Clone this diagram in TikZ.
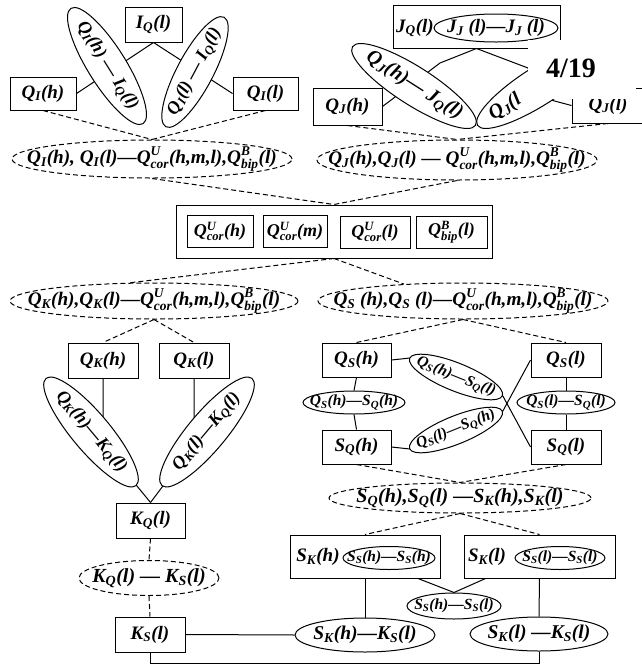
\documentclass[tikz,border=0pt]{standalone}
\usepackage{fontspec}
\setmainfont{Liberation Serif}
\usepackage{amsmath}
\usetikzlibrary{shapes.geometric,calc}
\pgfdeclarelayer{bg}
\pgfsetlayers{bg,main}
\newcommand\dn[1]{\ensuremath{_{\text{#1}}}}
\newcommand\ud[2]{\ensuremath{^{\text{#1}}_{\text{#2}}}}
\newcommand\stx{\fontsize{15.5}{16}\selectfont}
\newcommand\ctx{\fontsize{18}{20}\selectfont}
\newcommand\dtx{\fontsize{19.2}{21}\selectfont}
\newcommand\rtx{\fontsize{18}{19}\selectfont}
\newcommand\rtxb{\fontsize{20}{21}\selectfont}
\newcommand\elnode[7]{%
  \node[ellipse,draw,fill=white,lw,inner sep=0pt,#6,minimum width=#3pt,minimum height=#4pt,rotate=#5] (#1) at (#2) {};
  \node[txt,rotate=#5] (#1t) at (#1.center) {#7};}
\newcommand\bx[5]{\node[bx,minimum width=#3pt,minimum height=#4pt] (#1) at (#2) {#5};}
\tikzset{
  lw/.style={line width=1pt},
  txt/.style={font=\fontsize{19}{20}\selectfont\bfseries\itshape, inner sep=0pt},
  bx/.style={draw,fill=white,lw,inner sep=0pt,font=\fontsize{19}{20}\selectfont\bfseries\itshape},
  dsh/.style={dash pattern=on 5pt off 3pt},
  conn/.style={lw},
  dconn/.style={lw,dash pattern=on 5pt off 3pt}
}
\begin{document}
\begin{tikzpicture}[x=1pt,y=-1pt]
\useasboundingbox (0,0) rectangle (641,665);
% ---------- top left
\bx{IQ}{153.5,24.5}{57}{35}{I\dn{Q}(l)}
\bx{QIh}{43,93.5}{66}{33}{Q\dn{I}(h)}
\bx{QIl}{265.5,93.5}{65}{33}{Q\dn{I}(l)}
\elnode{EA}{107,66}{136}{38}{-58}{}{\rtx Q\dn{I}(h) — I\dn{Q}(l)}
\elnode{EB}{195,72}{124}{36}{62}{}{\rtx Q\dn{I}(l) — I\dn{Q}(l)}
\elnode{DA}{152,159}{280}{38}{0}{dsh}{\dtx Q\dn{I}(h), Q\dn{I}(l)—Q\ud{U}{cor}(h,m,l),Q\ud{B}{bip}(l)}
% ---------- top right
\node[bx,minimum width=167pt,minimum height=43pt] (JQ) at (476.5,26.5) {};
\node[txt] (JQt) at (415,28) {J\dn{Q}(l)};
\elnode{JJ}{496,28}{124}{28}{0}{}{J\dn{J} (l)—J\dn{J} (l)}
\bx{QJh}{347.5,106.5}{69}{37}{Q\dn{J}(h)}
\bx{QJl}{608,105.5}{72}{35}{Q\dn{J}(l)}
\elnode{EC}{414,86}{146}{38}{-32.6}{}{\rtxb Q\dn{J}(h)— J\dn{Q}(l)}
\node[ellipse,draw,fill=white,lw,inner sep=0pt,minimum width=146pt,minimum height=38pt,rotate=32.6] (ED) at (539,86) {};
\node[txt,rotate=32.6,anchor=west] (EDt) at ($(ED.west)!0.11!(ED.east)$) {\rtxb Q\dn{J}(l};
\elnode{DB}{457,160}{280}{40}{0}{dsh}{\dtx Q\dn{J}(h),Q\dn{J}(l) — Q\ud{U}{cor}(h,m,l),Q\ud{B}{bip}(l)}
% ---------- centre
\node[bx,minimum width=316pt,minimum height=53pt] (C) at (334,231.5) {};
\bx{CA}{220,231.5}{66}{32}{\ctx Q\ud{U}{cor}(h)}
\bx{CB}{295,231.5}{64}{32}{\ctx Q\ud{U}{cor}(m)}
\bx{CC}{375,232}{70}{32}{\ctx Q\ud{U}{cor}(l)}
\bx{CD}{451.5,232}{71}{32}{\ctx Q\ud{B}{bip}(l)}
\elnode{DC}{154,301}{288}{36}{0}{dsh}{\dtx Q\dn{K}(h),Q\dn{K}(l)—Q\ud{U}{cor}(h,m,l),Q\ud{B}{bip}(l)}
\elnode{DD}{463,301}{290}{36}{0}{dsh}{\dtx Q\dn{S} (h),Q\dn{S} (l)—Q\ud{U}{cor}(h,m,l),Q\ud{B}{bip}(l)}
% ---------- left column
\bx{QKh}{103,360.5}{70}{35}{Q\dn{K}(h)}
\bx{QKl}{194,360.5}{70}{35}{Q\dn{K}(l)}
\elnode{EE}{91,432}{140}{38}{-50}{}{\rtx Q\dn{K}(h)—K\dn{Q}(l)}
\elnode{EF}{207,432}{140}{38}{50}{}{\rtx Q\dn{K}(l)—K\dn{Q}(l)}
\bx{KQ}{150.5,520.5}{69}{35}{K\dn{Q}(l)}
\elnode{DE}{149,578}{140}{35}{0}{dsh}{\fontsize{20}{21}\selectfont K\dn{Q}(l) — K\dn{S}(l)}
\bx{KS}{150,634.5}{70}{35}{K\dn{S}(l)}
% ---------- right column
\bx{QSh}{356.5,360}{69}{34}{Q\dn{S}(h)}
\bx{QSl}{566,360}{70}{34}{Q\dn{S}(l)}
\bx{SQh}{356.5,447}{69}{34}{S\dn{Q}(h)}
\bx{SQl}{566,447}{70}{34}{S\dn{Q}(l)}
\elnode{EG}{354,402.5}{102}{23}{0}{}{\stx Q\dn{S}(h)—S\dn{Q}(h)}
\elnode{EH}{566,402.5}{98}{23}{0}{}{\stx Q\dn{S}(l)—S\dn{Q}(l)}
\elnode{EI}{456,377}{100}{28}{-22}{}{\stx Q\dn{S}(h)—S\dn{Q}(l)}
\elnode{EJ}{456,430}{100}{28}{22}{}{\stx Q\dn{S}(l)—S\dn{Q}(h)}
\elnode{DF}{460,498}{262}{30}{0}{dsh}{\fontsize{20}{21}\selectfont S\dn{Q}(h),S\dn{Q}(l) —S\dn{K}(h),S\dn{K}(l)}
\node[bx,minimum width=150pt,minimum height=43pt] (SKh) at (365,556.5) {};
\node[txt] (SKht) at (318,557) {S\dn{K}(h)};
\elnode{ESh}{389,558}{92}{23}{0}{}{\stx S\dn{S}(h)—S\dn{S}(h)}
\node[bx,minimum width=151pt,minimum height=43pt] (SKl) at (539.5,556.5) {};
\node[txt] (SKlt) at (487,557) {S\dn{K}(l)};
\elnode{ESl}{560,558}{90}{23}{0}{}{\stx S\dn{S}(l)—S\dn{S}(l)}
\elnode{EK}{454,606}{94}{26}{0}{}{\stx S\dn{S}(h)—S\dn{S}(l)}
\elnode{EL}{365,635}{140}{34}{0}{}{\fontsize{19.5}{20}\selectfont S\dn{K}(h)—K\dn{S}(l)}
\elnode{EM}{539,634}{138}{34}{0}{}{\fontsize{19.5}{20}\selectfont S\dn{K}(l) —K\dn{S}(l)}
% ---------- connectors
\begin{pgfonlayer}{bg}
\draw[conn] (IQ.south) -- (QIh.east);
\draw[conn] (IQ.south) -- (QIl.west);
\draw[dconn] (QIh.south) -- (DA.north);
\draw[dconn] (QIl.south) -- (DA.north);
\draw[conn] (JQ.south) -- (440,63) -- (QJh.east);
\draw[conn] (JQ.south) -- (528,68) -- (547,99) -- (QJl.west);
\draw[dconn] (QJh.south) -- (DB.north);
\draw[dconn] (QJl.south) -- (DB.north);
\draw[dconn] (DA.south) -- (C.north);
\draw[dconn] (DB.south) -- (C.north);
\draw[dconn] (C.south) -- (DC.143);
\draw[dconn] (C.south) -- (DD.164);
\draw[dconn] (DC.south) -- (QKh.north);
\draw[dconn] (DC.south) -- (QKl.north);
\draw[conn] (QKh.south) -- ++(0,66) -- (KQ.north);
\draw[conn] (QKl.south) -- ++(0,66) -- (KQ.north);
\draw[dconn] (KQ.south) -- (DE.north);
\draw[dconn] (DE.south) -- (KS.north);
\draw[conn] (KS.east) -- (EL.west);
\draw[conn] (KS.south) -- ++(0,11) -| (EM.south);
\draw[dconn] (DD.south) -- (QSh.north);
\draw[dconn] (DD.south) -- (QSl.north);
\draw[conn] (QSh.south) -- (EG.north);
\draw[conn] (EG.south) -- (SQh.north);
\draw[conn] (QSl.south) -- (EH.north);
\draw[conn] (EH.south) -- (SQl.north);
\draw[conn] (QSh.east) -- (EI.west) -- (EI.east) -- (SQl.west);
\draw[conn] (SQh.east) -- (EJ.west) -- (EJ.east) -- (QSl.west);
\draw[dconn] (SQh.south) -- (DF.north);
\draw[dconn] (SQl.south) -- (DF.north);
\draw[dconn] (DF.south) -- (SKh.north);
\draw[dconn] (DF.south) -- (SKl.north);
\draw[conn] (SKh.south) -- (EL.north);
\draw[conn] (SKl.south) -- (EM.north);
\draw[conn] ($(SKh.south)+(53,0)$) -- (EK.north);
\draw[conn] ($(SKl.south)+(-54,0)$) -- (EK.north);
\end{pgfonlayer}
% ---------- page number overlay
\fill[white] (528,40) rectangle (636,99);
\node[font=\fontsize{28}{30}\selectfont\bfseries, inner sep=0pt] (pg) at (571,68) {4/19};
\end{tikzpicture}
\end{document}
